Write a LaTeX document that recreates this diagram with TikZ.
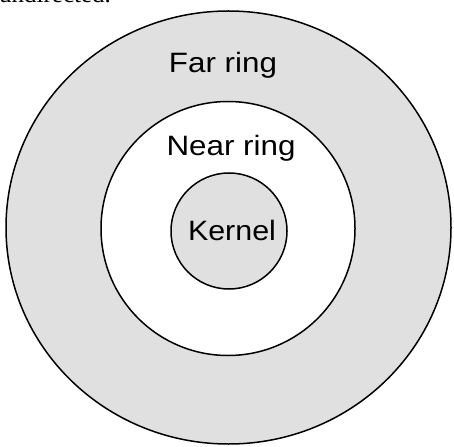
\documentclass[tikz,border=0pt]{standalone}
\usepackage{fontspec}
\setmainfont{Liberation Serif}
\setsansfont{Liberation Sans}
\usetikzlibrary{shapes.geometric}
\definecolor{ringgray}{gray}{0.88}

\begin{document}
\begin{tikzpicture}[
    x=1pt, y=-1pt,
    ring/.style={draw, line width=1.5pt, fill=ringgray, inner sep=0pt},
    ringtext/.style={font=\sffamily\fontsize{28}{28}\selectfont, anchor=base,
                     inner sep=0pt, xscale=1.12, transform shape}
  ]
    \useasboundingbox (0,0) rectangle (454,446);
    \clip (0,0) rectangle (454,446);
    % text above the figure, cut off at the top edge
    \node[font=\fontsize{25}{25}\selectfont, anchor=base west, inner sep=0pt] (cap) at (-1,3) {undirected.};

    \node[ring, ellipse, minimum width=445pt, minimum height=433pt] (far) at (228.5,227.5) {};
    \node[ring, circle, fill=white, minimum size=254pt] (near) at (228,228.5) {};
    \node[ring, circle, minimum size=116pt] (kernel) at (229,231) {};

    \node[ringtext] (fartext)    at (223,73)  {Far ring};
    \node[ringtext] (neartext)   at (231,156) {Near ring};
    \node[ringtext, xscale=0.97] (kerneltext) at (232,240) {Kernel};
  \end{tikzpicture}
\end{document}
